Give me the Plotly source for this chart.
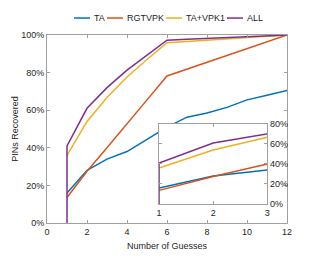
import plotly.graph_objects as go

guesses = [1, 1, 2, 3, 4, 5, 6, 7, 8, 9, 10, 11, 12]
ta = [None, 16, 28, 34, 38, 44.5, 51, 56.3, 58.5, 61.5, 65.5, 68, 70.5]
rgtvpk = [None, 13.6, 27.5, 40, 53, 65.5, 78.2, 81.8, 85.5, 89.2, 92.8, 96.4, 100]
ta_vpk1 = [None, 36, 54, 66.7, 77.7, 87, 95.9, 96.6, 97.3, 98, 98.7, 99.3, 100]
all_ = [0, 41, 61, 72, 81.3, 89.5, 97.2, 97.7, 98.2, 98.6, 99.1, 99.5, 100]

names = ["TA", "RGTVPK", "TA+VPK1", "ALL"]
colors = ["#0072BD", "#D95319", "#EDB120", "#7E2F8E"]
series = [ta, rgtvpk, ta_vpk1, all_]

x_ticks = [0, 2, 4, 6, 8, 10, 12]
y_ticks = [0, 20, 40, 60, 80, 100]
inset_x_ticks = [1, 2, 3]
inset_y_ticks = [0, 20, 40, 60, 80]

FONT = "Liberation Sans, Arial, sans-serif"
GRAY = "#262626"
AX = "#a0a0a0"

fig = go.Figure()
for n, c, s in zip(names, colors, series):
    fig.add_trace(go.Scatter(x=guesses, y=s, mode="lines", name=n,
                             line=dict(color=c, width=1.5), xaxis="x", yaxis="y",
                             showlegend=False))
for n, c, s in zip(names, colors, series):
    fig.add_trace(go.Scatter(x=guesses, y=s, mode="lines", name=n,
                             line=dict(color=c, width=1.5), xaxis="x2", yaxis="y2",
                             showlegend=False))

axis_common = dict(showgrid=False, zeroline=False, showline=True, linecolor=AX,
                   linewidth=1, mirror="ticks", ticks="inside", ticklen=3,
                   tickcolor=AX, tickfont=dict(family=FONT, size=9, color=GRAY))

fig.update_layout(
    width=323, height=269,
    margin=dict(l=47, r=36, t=35, b=46),
    paper_bgcolor="white", plot_bgcolor="white",
    font=dict(family=FONT, size=9, color=GRAY),
    xaxis=dict(domain=[0, 1], range=[0, 12], tickvals=x_ticks,
               title=dict(text="Number of Guesses", font=dict(size=9, color=GRAY), standoff=6),
               **axis_common),
    yaxis=dict(domain=[0, 1], range=[0, 100], tickvals=y_ticks,
               ticktext=[f"{v}%" for v in y_ticks],
               title=dict(text="PINs Recovered", font=dict(size=9, color=GRAY), standoff=1),
               **axis_common),
    xaxis2=dict(domain=[0.467, 0.918], range=[1, 3], tickvals=inset_x_ticks,
                anchor="y2", **axis_common),
    yaxis2=dict(domain=[0.101, 0.527], range=[0, 80], tickvals=inset_y_ticks,
                ticktext=[f"{v}%" for v in inset_y_ticks], side="right",
                anchor="x2", **axis_common),
)

# white background for the inset
fig.add_shape(type="rect", xref="x2 domain", yref="y2 domain", x0=0, x1=1, y0=0, y1=1,
              fillcolor="white", line=dict(width=0), layer="below")

# manual legend at the top
def px2paper(px):
    return (px - 47) / 240.0

leg_y = (223.3 - 18) / 188.3
segs = [(74, 90), (107, 123), (166, 182), (227, 243)]
for (a, b), n, c in zip(segs, names, colors):
    fig.add_shape(type="line", xref="paper", yref="paper", x0=px2paper(a), x1=px2paper(b),
                  y0=leg_y, y1=leg_y, line=dict(color=c, width=1.5))
    fig.add_annotation(xref="paper", yref="paper", x=px2paper(b + 1.5), y=leg_y,
                       text=n, showarrow=False, xanchor="left", yanchor="middle",
                       font=dict(family=FONT, size=9, color=GRAY))

fig.write_html("out.html", config={"displayModeBar": False},
               post_script="document.body.style.margin='0';document.body.style.overflow='hidden';")
